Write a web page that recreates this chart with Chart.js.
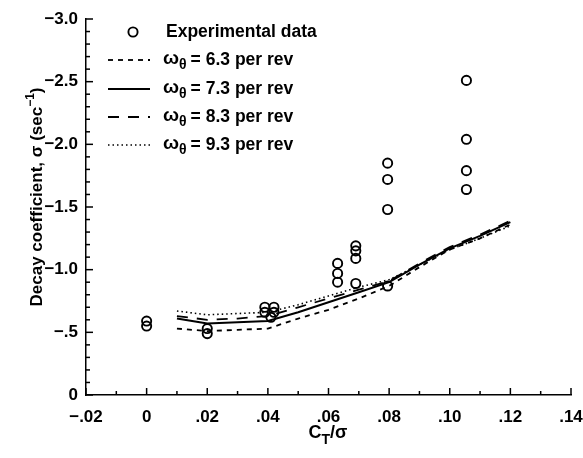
<!DOCTYPE html>
<html>
<head>
<meta charset="utf-8">
<script src="https://cdn.jsdelivr.net/npm/chart.js@4/dist/chart.umd.min.js"></script>
<style>
html,body{margin:0;padding:0;background:#fff;}
#c{display:block;}
</style>
</head>
<body>
<canvas id="c" width="583" height="458"></canvas>
<script>
// ---- data ----
const xTickValues = [-0.02, 0, 0.02, 0.04, 0.06, 0.08, 0.10, 0.12, 0.14];
const xTickLabels = ["\u2212.02", "0", ".02", ".04", ".06", ".08", ".10", ".12", ".14"];
const yTickValues = [-3.0, -2.5, -2.0, -1.5, -1.0, -0.5, 0];
const yTickLabels = ["\u22123.0", "\u22122.5", "\u22122.0", "\u22121.5", "\u22121.0", "\u2212.5", "0"];

const expX = [0, 0, 0.02, 0.02, 0.039, 0.042, 0.039, 0.042, 0.041,
              0.063, 0.063, 0.063, 0.069, 0.069, 0.069, 0.069,
              0.0795, 0.0795, 0.0795, 0.0795, 0.1055, 0.1055, 0.1055, 0.1055];
const expY = [-0.59, -0.55, -0.53, -0.49, -0.70, -0.70, -0.66, -0.66, -0.62,
              -1.05, -0.97, -0.90, -1.19, -1.15, -1.09, -0.89,
              -1.85, -1.72, -1.48, -0.87, -2.51, -2.04, -1.79, -1.64];

const modelX = [0.01, 0.02, 0.03, 0.04, 0.05, 0.06, 0.07, 0.08, 0.09, 0.10, 0.11, 0.12];
const omega63 = [-0.53, -0.51, -0.52, -0.53, -0.61, -0.68, -0.77, -0.87, -1.02, -1.16, -1.25, -1.36];
const omega73 = [-0.61, -0.57, -0.58, -0.59, -0.66, -0.74, -0.82, -0.90, -1.04, -1.17, -1.27, -1.38];
const omega83 = [-0.63, -0.60, -0.61, -0.63, -0.70, -0.77, -0.84, -0.91, -1.05, -1.18, -1.28, -1.39];
const omega93 = [-0.67, -0.64, -0.65, -0.66, -0.72, -0.79, -0.86, -0.92, -1.04, -1.16, -1.25, -1.35];

const seriesLabels = ["6.3", "7.3", "8.3", "9.3"];
// ---- end data ----

const FONT = "Liberation Sans, Arial, Helvetica, sans-serif";
const pts = (xs, ys) => xs.map((x, i) => ({x: x, y: ys[i]}));

const lineStyles = [
  {dash: [5, 5], width: 1.8},
  {dash: [], width: 2},
  {dash: [11, 9], width: 1.8},
  {dash: [1.5, 3], width: 1.6}
];
const modelSeries = [omega63, omega73, omega83, omega93];

const datasets = [{
  type: 'scatter',
  label: 'Experimental data',
  data: pts(expX, expY),
  pointStyle: 'circle',
  pointRadius: 4.6,
  pointBorderWidth: 1.9,
  pointBorderColor: '#000',
  pointBackgroundColor: 'rgba(255,255,255,0)',
  showLine: false,
  order: 0
}];
modelSeries.forEach((ys, i) => {
  datasets.push({
    type: 'line',
    label: '\u03c9\u03b8 = ' + seriesLabels[i] + ' per rev',
    data: pts(modelX, ys),
    borderColor: '#000',
    borderWidth: lineStyles[i].width,
    borderDash: lineStyles[i].dash,
    pointRadius: 0,
    fill: false,
    tension: 0,
    order: 1
  });
});

const overlay = {
  id: 'overlay',
  afterDraw(chart) {
    const ctx = chart.ctx;
    const xs = chart.scales.x, ys = chart.scales.y;
    const area = chart.chartArea;
    ctx.save();
    ctx.strokeStyle = '#000';
    ctx.fillStyle = '#000';
    // inward ticks
    ctx.lineWidth = 1.5;
    ctx.setLineDash([]);
    for (let k = 0; k <= 16; k++) {
      const v = -0.02 + k * 0.01;
      const px = xs.getPixelForValue(v);
      const len = (k % 2 === 0) ? 7 : 4;
      ctx.beginPath(); ctx.moveTo(px, area.bottom); ctx.lineTo(px, area.bottom - len); ctx.stroke();
    }
    for (let k = 0; k <= 30; k++) {
      const v = -k * 0.1;
      const py = ys.getPixelForValue(v);
      const len = (k % 5 === 0) ? 7 : 4;
      ctx.beginPath(); ctx.moveTo(area.left, py); ctx.lineTo(area.left + len, py); ctx.stroke();
    }
    // legend
    const lx0 = 108, lx1 = 150, tx = 163;
    const rows = [32, 60, 89, 117, 145];
    ctx.textBaseline = 'middle';
    ctx.textAlign = 'left';
    // circle
    ctx.lineWidth = 1.9;
    ctx.beginPath(); ctx.arc(133, rows[0], 4.6, 0, Math.PI * 2); ctx.stroke();
    ctx.font = 'bold 17.5px ' + FONT;
    ctx.fillText('Experimental data', tx + 3, rows[0]);
    for (let i = 0; i < 4; i++) {
      const y = rows[i + 1];
      ctx.lineWidth = lineStyles[i].width;
      ctx.setLineDash(lineStyles[i].dash);
      ctx.beginPath(); ctx.moveTo(lx0, y); ctx.lineTo(lx1, y); ctx.stroke();
      ctx.setLineDash([]);
      let x = tx;
      ctx.font = 'bold 19px ' + FONT;
      ctx.fillText('\u03c9', x, y - 1);
      x += ctx.measureText('\u03c9').width;
      ctx.font = 'bold 14px ' + FONT;
      ctx.fillText('\u03b8', x, y + 5);
      x += ctx.measureText('\u03b8').width + 4;
      ctx.font = 'bold 17.5px ' + FONT;
      ctx.fillText('= ' + seriesLabels[i] + ' per rev', x, y);
    }
    // x title: C_T/σ
    {
      const cx = 328, cy = 433;
      ctx.font = 'bold 18px ' + FONT;
      const wC = ctx.measureText('C').width;
      ctx.font = 'bold 14px ' + FONT;
      const wT = ctx.measureText('T').width;
      ctx.font = 'bold 18px ' + FONT;
      const wS = ctx.measureText('/\u03c3').width;
      let x = cx - (wC + wT + wS) / 2;
      ctx.fillText('C', x, cy); x += wC;
      ctx.font = 'bold 14px ' + FONT;
      ctx.fillText('T', x, cy + 7); x += wT;
      ctx.font = 'bold 18px ' + FONT;
      ctx.fillText('/\u03c3', x, cy);
    }
    // y title rotated
    {
      ctx.translate(37, 197);
      ctx.rotate(-Math.PI / 2);
      const a = 'Decay coefficient, \u03c3 (sec';
      const sup = '\u22121';
      const b = ')';
      ctx.font = 'bold 17px ' + FONT;
      const wa = ctx.measureText(a).width, wb = ctx.measureText(b).width;
      ctx.font = 'bold 12px ' + FONT;
      const ws = ctx.measureText(sup).width;
      let x = -(wa + ws + wb) / 2;
      ctx.font = 'bold 17px ' + FONT;
      ctx.fillText(a, x, 0); x += wa;
      ctx.font = 'bold 12px ' + FONT;
      ctx.fillText(sup, x, -6); x += ws;
      ctx.font = 'bold 17px ' + FONT;
      ctx.fillText(b, x, 0);
    }
    ctx.restore();
  }
};

new Chart(document.getElementById('c'), {
  data: {datasets: datasets},
  options: {
    responsive: false,
    devicePixelRatio: 1,
    animation: false,
    layout: {padding: {top: 19, right: 12, left: 0, bottom: 0}},
    plugins: {legend: {display: false}, tooltip: {enabled: false}},
    scales: {
      x: {
        type: 'linear',
        min: -0.02, max: 0.14,
        afterBuildTicks: s => { s.ticks = xTickValues.map(v => ({value: v})); },
        afterFit: s => { s.height = 63; s.paddingLeft = 0; s.paddingRight = 0; },
        grid: {display: true, drawOnChartArea: false, drawTicks: false},
        border: {display: true, color: '#000', width: 1.5},
        ticks: {
          autoSkip: false, maxRotation: 0, padding: 12, color: '#000',
          font: {family: FONT, size: 17, weight: 'bold'},
          callback: (v, i) => xTickLabels[i]
        }
      },
      y: {
        type: 'linear',
        min: -3, max: 0, reverse: true,
        afterBuildTicks: s => { s.ticks = yTickValues.map(v => ({value: v})); },
        afterFit: s => { s.width = 86; s.paddingTop = 0; s.paddingBottom = 0; },
        grid: {display: true, drawOnChartArea: false, drawTicks: false},
        border: {display: true, color: '#000', width: 1.5},
        ticks: {
          autoSkip: false, padding: 8, color: '#000',
          font: {family: FONT, size: 17, weight: 'bold'},
          callback: (v, i) => yTickLabels[i]
        }
      }
    }
  },
  plugins: [overlay]
});
</script>
</body>
</html>
